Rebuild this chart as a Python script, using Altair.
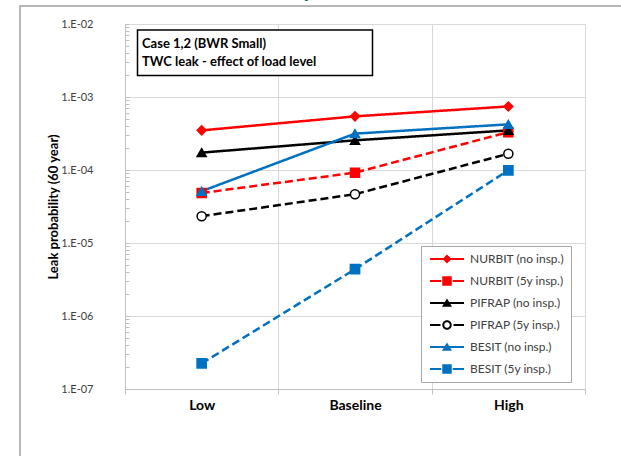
import math
import altair as alt
import pandas as pd

# ---------------- data ----------------
levels = ["Low", "Baseline", "High"]
series = ["NURBIT (no insp.)", "NURBIT (5y insp.)", "PIFRAP (no insp.)",
          "PIFRAP (5y insp.)", "BESIT (no insp.)", "BESIT (5y insp.)"]
nurbit_no = [3.49e-4, 5.43e-4, 7.43e-4]
nurbit_5y = [4.84e-5, 9.2e-5, 3.3e-4]
pifrap_no = [1.73e-4, 2.55e-4, 3.49e-4]
pifrap_5y = [2.33e-5, 4.66e-5, 1.67e-4]
besit_no = [5.12e-5, 3.15e-4, 4.22e-4]
besit_5y = [2.24e-7, 4.38e-6, 9.9e-5]
decade_ticks = [1e-7, 1e-6, 1e-5, 1e-4, 1e-3, 1e-2]

values = [nurbit_no, nurbit_5y, pifrap_no, pifrap_5y, besit_no, besit_5y]
rows = []
for i, (s, vals) in enumerate(zip(series, values)):
    for lev, v in zip(levels, vals):
        rows.append({"series": s, "level": lev, "value": v, "order": i})
df = pd.DataFrame(rows)

# ---------------- styles ----------------
RED, BLK, BLU = "#ff0000", "#000000", "#0070c0"
colors = [RED, RED, BLK, BLK, BLU, BLU]
fills = [RED, RED, BLK, "#ffffff", BLU, BLU]
dashes = [[1, 0], [8, 4], [1, 0], [8, 4], [1, 0], [8, 4]]
shapes = ["diamond", "square", "triangle-up", "circle", "triangle-up", "square"]
sizes = [80, 85, 85, 60, 85, 85]
FONT = "Lato"

minor_ticks = []
for d in range(-7, -2 + 1):
    for k in range(1, 10):
        v = k * 10.0 ** d
        if v <= 1e-2 * 1.0001:
            minor_ticks.append(v)

# legend symbols (custom paths, 1 unit = 5 px)
def rect(x0, x1, h=0.22):
    return f"M{x0:.3f},{-h:.3f}H{x1:.3f}V{h:.3f}H{x0:.3f}Z"

CX = 2.6
def diamond(cx=CX, r=0.9):
    return f"M{cx:.3f},{-r:.3f}L{cx + r:.3f},0L{cx:.3f},{r:.3f}L{cx - r:.3f},0Z"

def square(cx=CX, r=0.95):
    return f"M{cx - r:.3f},{-r:.3f}H{cx + r:.3f}V{r:.3f}H{cx - r:.3f}Z"

def triangle(cx=CX):
    return f"M{cx:.3f},-0.9L{cx + 1.0:.3f},0.75L{cx - 1.0:.3f},0.75Z"

def circle(cx=CX, r=0.95, reverse=False, n=28):
    pts = []
    for j in range(n):
        a = 2 * math.pi * j / n
        if reverse:
            a = -a
        pts.append((cx + r * math.cos(a), r * math.sin(a)))
    return "M" + "L".join(f"{x:.3f},{y:.3f}" for x, y in pts) + "Z"

legend_paths = [
    rect(-0.8, 6.0) + diamond(),
    rect(-0.8, 1.45) + square() + rect(3.75, 6.0),
    rect(-0.8, 6.0) + triangle(),
    rect(-0.8, 1.3) + circle(r=0.95) + circle(r=0.55, reverse=True) + rect(3.9, 6.0),
    rect(-0.8, 6.0) + triangle(),
    rect(-0.8, 1.45) + square() + rect(3.75, 6.0),
]

W, H = 460, 365

x_enc = alt.X("level:N", sort=levels, bandPosition=0.5,
              scale=alt.Scale(type="band", domain=levels, paddingInner=0, paddingOuter=0),
              axis=alt.Axis(title=None, labelAngle=0, tickBand="extent", grid=True,
                            gridColor="#d9d9d9", domainColor="#bfbfbf", tickColor="#bfbfbf",
                            tickSize=5, labelPadding=4, labelFont=FONT, labelFontSize=14,
                            labelFontWeight="bold", labelColor="#000000"))
x_noaxis = alt.X("level:N", sort=levels, bandPosition=0.5,
                 scale=alt.Scale(type="band", domain=levels, paddingInner=0, paddingOuter=0),
                 axis=None)
yscale = alt.Scale(type="log", domain=[1e-7, 1e-2], nice=False)

lines = alt.Chart(df).mark_line(strokeWidth=2.5).encode(
    x=x_enc,
    y=alt.Y("value:Q", scale=yscale,
            axis=alt.Axis(orient="left", values=decade_ticks, grid=True, gridColor="#d9d9d9",
                          ticks=False, domainColor="#bfbfbf", labelFont=FONT, labelFontSize=11,
                          labelColor="#404040", labelPadding=32,
                          labelExpr="'1.E-' + format(round(-log(datum.value)/LN10), '02d')",
                          title="Leak probability (60 year)", titleFont=FONT, titleFontSize=13,
                          titleFontWeight="bold", titleColor="#000000", titleAngle=270,
                          titleX=-72, titleY=H / 2, titleAlign="center",
                          titleBaseline="middle")),
    color=alt.Color("series:N", scale=alt.Scale(domain=series, range=colors), legend=None),
    strokeDash=alt.StrokeDash("series:N", scale=alt.Scale(domain=series, range=dashes),
                              legend=None),
    order="order:Q",
)

points = alt.Chart(df).mark_point(filled=True, opacity=1, strokeWidth=1.5).encode(
    x=x_noaxis,
    y=alt.Y("value:Q", scale=yscale,
            axis=alt.Axis(orient="right", offset=-W, values=minor_ticks, labels=False,
                          domain=False, grid=False, ticks=True, tickSize=4,
                          tickColor="#bfbfbf", title=None)),
    shape=alt.Shape("series:N", scale=alt.Scale(domain=series, range=shapes), legend=None),
    size=alt.Size("series:N", scale=alt.Scale(domain=series, range=sizes), legend=None),
    fill=alt.Fill("series:N", scale=alt.Scale(domain=series, range=fills), legend=None),
    stroke=alt.Stroke("series:N", scale=alt.Scale(domain=series, range=colors), legend=None),
)

leg_props = dict(title=None, orient="none", legendX=296, legendY=222, symbolSize=100,
                 symbolStrokeWidth=0, symbolOpacity=1, labelFont=FONT, labelFontSize=12,
                 labelColor="#404040", labelOffset=30, rowPadding=10, padding=7,
                 strokeColor="#a6a6a6", fillColor="#ffffff")
legend_layer = alt.Chart(df).transform_filter("datum.value < 0").mark_point(
    filled=True).encode(
    x=x_noaxis,
    y=alt.Y("value:Q", scale=yscale, axis=None),
    color=alt.Color("series:N", scale=alt.Scale(domain=series, range=colors),
                    legend=alt.Legend(**leg_props)),
    shape=alt.Shape("series:N", scale=alt.Scale(domain=series, range=legend_paths),
                    legend=alt.Legend(**leg_props)),
)

one = pd.DataFrame({"k": [0]})
frame = alt.Chart(one).mark_rect(fill=None, stroke="#a0a0a0", strokeWidth=1.5).encode(
    x=alt.value(-105), x2=alt.value(510), y=alt.value(-18), y2=alt.value(450))
box = alt.Chart(one).mark_rect(fill="#ffffff", stroke="#000000", strokeWidth=1.5).encode(
    x=alt.value(12.5), x2=alt.value(247.5), y=alt.value(6), y2=alt.value(51.5))
t1 = alt.Chart(one).mark_text(align="left", baseline="alphabetic", font=FONT, fontSize=13,
                              fontWeight="bold", color="#000000").encode(
    x=alt.value(17), y=alt.value(23.5), text=alt.value("Case 1,2 (BWR Small)"))
t2 = alt.Chart(one).mark_text(align="left", baseline="alphabetic", font=FONT, fontSize=13,
                              fontWeight="bold", color="#000000").encode(
    x=alt.value(17), y=alt.value(41.5), text=alt.value("TWC leak - effect of load level"))
glyph = alt.Chart(one).mark_text(align="center", baseline="alphabetic", font=FONT,
                                 fontSize=22, fontWeight="bold", color="#00704a").encode(
    x=alt.value(183), y=alt.value(-27), text=alt.value("y"))

chart = alt.layer(frame, glyph, lines, points, legend_layer, box, t1, t2).resolve_scale(
    color="independent", shape="independent", size="independent", fill="independent",
    stroke="independent", strokeDash="independent"
).resolve_axis(y="independent", x="independent").properties(
    width=W, height=H,
    autosize=alt.AutoSizeParams(type="none"),
    padding={"left": 125, "top": 24, "right": 36, "bottom": 67},
    background="#ffffff",
).configure_view(stroke="#d9d9d9", strokeWidth=1)

chart.save("out.html", embed_options={"renderer": "svg", "actions": False})
